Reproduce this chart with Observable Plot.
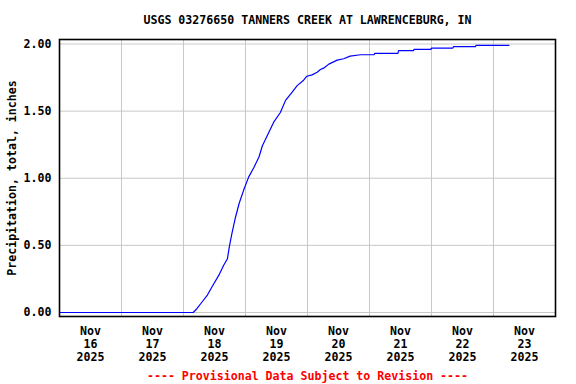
<!DOCTYPE html>
<html>
<head>
<meta charset="utf-8">
<script src="https://cdn.jsdelivr.net/npm/d3@7"></script>
<script src="https://cdn.jsdelivr.net/npm/@observablehq/plot@0.6"></script>
<style>
  html, body { margin: 0; padding: 0; background: #fff; }
</style>
</head>
<body>
<div id="chart"></div>
<script>
const title = "USGS 03276650 TANNERS CREEK AT LAWRENCEBURG, IN";
const yLabel = "Precipitation, total, inches";
const caption = "---- Provisional Data Subject to Revision ----";

// Cumulative precipitation readings (UTC-style timestamps as shown on the chart)
const times = [
  "2025-11-16T00:00", "2025-11-18T03:45", "2025-11-18T05:15", "2025-11-18T07:15",
  "2025-11-18T09:15", "2025-11-18T11:00", "2025-11-18T13:45", "2025-11-18T15:30",
  "2025-11-18T17:00", "2025-11-18T17:45", "2025-11-18T18:45", "2025-11-18T20:00",
  "2025-11-18T21:30", "2025-11-18T23:15", "2025-11-19T01:15", "2025-11-19T03:15",
  "2025-11-19T05:15", "2025-11-19T06:30", "2025-11-19T08:30", "2025-11-19T11:00",
  "2025-11-19T13:30", "2025-11-19T15:30", "2025-11-19T18:00", "2025-11-19T20:00",
  "2025-11-19T22:30", "2025-11-19T23:45", "2025-11-20T01:45", "2025-11-20T03:45",
  "2025-11-20T05:00", "2025-11-20T06:15", "2025-11-20T08:15", "2025-11-20T11:30",
  "2025-11-20T14:00", "2025-11-20T16:30", "2025-11-20T20:30",
  "2025-11-21T01:45", "2025-11-21T02:00",
  "2025-11-21T11:00", "2025-11-21T11:15",
  "2025-11-21T17:00", "2025-11-21T17:15",
  "2025-11-21T23:45", "2025-11-22T00:00",
  "2025-11-22T08:15", "2025-11-22T08:30",
  "2025-11-22T17:00", "2025-11-22T17:15",
  "2025-11-23T06:00"
];
const values = [
  0.00, 0.00, 0.03, 0.08,
  0.13, 0.19, 0.28, 0.35,
  0.40, 0.49, 0.59, 0.70,
  0.81, 0.91, 1.01, 1.08,
  1.16, 1.24, 1.32, 1.42,
  1.49, 1.58, 1.64, 1.69,
  1.73, 1.76, 1.77, 1.79,
  1.81, 1.82, 1.85, 1.88,
  1.89, 1.91, 1.92,
  1.92, 1.93,
  1.93, 1.95,
  1.95, 1.96,
  1.96, 1.97,
  1.97, 1.98,
  1.98, 1.99,
  1.99
];

const yTicks = [0, 0.5, 1.0, 1.5, 2.0];
const yTickLabels = ["0.00", "0.50", "1.00", "1.50", "2.00"];
const xTickDays = ["2025-11-16", "2025-11-17", "2025-11-18", "2025-11-19",
                   "2025-11-20", "2025-11-21", "2025-11-22", "2025-11-23"];
const xTickLabels = ["Nov\n16\n2025", "Nov\n17\n2025", "Nov\n18\n2025", "Nov\n19\n2025",
                     "Nov\n20\n2025", "Nov\n21\n2025", "Nov\n22\n2025", "Nov\n23\n2025"];
const xStart = "2025-11-16T00:00";
const xEnd = "2025-11-24T00:00";

const parse = s => new Date(s + (s.length <= 10 ? "T00:00" : "") + ":00Z");
const data = times.map((t, i) => ({date: parse(t), value: values[i]}));
const labelTicks = xTickDays.map(d => new Date(parse(d).getTime() + 12 * 3600e3));
const gridTicks = xTickDays.map(d => parse(d)).concat([parse(xEnd)]);
const xLabelMap = new Map(labelTicks.map((d, i) => [d.getTime(), xTickLabels[i]]));
const yLabelMap = new Map(yTicks.map((d, i) => [d, yTickLabels[i]]));

const chart = Plot.plot({
  width: 576,
  height: 384,
  marginLeft: 59,
  marginRight: 21,
  marginTop: 39,
  marginBottom: 68,
  style: {
    fontFamily: "'DejaVu Sans Mono', 'Liberation Mono', monospace",
    fontSize: "11.6px",
    fontWeight: "bold",
    background: "#fff",
    color: "#000"
  },
  x: {type: "utc", domain: [parse(xStart), parse(xEnd)]},
  y: {domain: [-0.0298, 2.0335]},
  marks: [
    Plot.gridX(gridTicks, {stroke: "#c8c8c8", strokeOpacity: 1, strokeWidth: 1}),
    Plot.gridY(yTicks, {stroke: "#c8c8c8", strokeOpacity: 1, strokeWidth: 1}),
    Plot.line(data, {x: "date", y: "value", stroke: "#0000ff", strokeWidth: 1.2}),
    Plot.frame({stroke: "#000", strokeWidth: 1.6}),
    Plot.axisX(labelTicks, {
      tickSize: 0, tickPadding: 9, lineHeight: 1.13,
      tickFormat: d => xLabelMap.get(d.getTime()), label: null
    }),
    Plot.axisY(yTicks, {
      tickSize: 0, tickPadding: 8,
      tickFormat: d => yLabelMap.get(d), label: null
    }),
    Plot.text([yLabel], {frameAnchor: "left", dx: -47, rotate: -90, textAnchor: "middle", lineAnchor: "middle", fill: "#000"}),
    Plot.text([title], {frameAnchor: "top", dy: -19.5, textAnchor: "middle", lineAnchor: "middle", fill: "#000"}),
    Plot.text([caption], {frameAnchor: "bottom", dy: 59.5, textAnchor: "middle", lineAnchor: "middle", fill: "#ff0000"})
  ]
});
document.getElementById("chart").appendChild(chart);
</script>
</body>
</html>
